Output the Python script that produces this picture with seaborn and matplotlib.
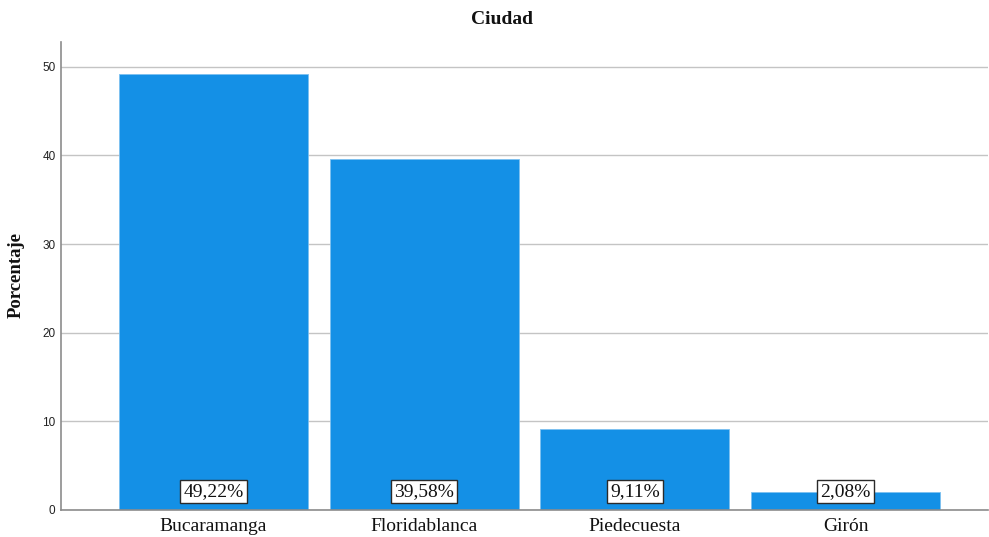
import matplotlib
matplotlib.use("Agg")
import matplotlib.pyplot as plt
import seaborn as sns
import pandas as pd

ciudades = ["Bucaramanga", "Floridablanca", "Piedecuesta", "Girón"]
porcentajes = [49.22, 39.58, 9.11, 2.08]
y_ticks = [0, 10, 20, 30, 40, 50]

df = pd.DataFrame({"Ciudad": ciudades, "Porcentaje": porcentajes})

sns.set_theme(style="white")
plt.rcParams["font.family"] = ["Liberation Serif", "DejaVu Serif"]

fig = plt.figure(figsize=(9.89, 5.37), dpi=100)
ax = fig.add_axes([61 / 989, 27 / 537, 927 / 989, 468 / 537])

ax.set_axisbelow(True)
ax.yaxis.grid(True, color="#c4c4c4", linewidth=1.0)

sns.barplot(data=df, x="Ciudad", y="Porcentaje", color="#1490e6",
            saturation=1, width=0.897, edgecolor="#7cc0f0", linewidth=0.6, ax=ax)

for i, v in enumerate(porcentajes):
    ax.text(i, 2.1, f"{v:.2f}%".replace(".", ","), ha="center", va="center",
            fontsize=14, color="#111111",
            bbox=dict(boxstyle="square,pad=0.16", facecolor="white",
                      edgecolor="#2a2a2a", linewidth=1.0))

ax.set_xlim(-0.724, 3.676)
ax.set_ylim(0, 52.8)
ax.set_yticks(y_ticks)
ax.set_yticklabels([str(t) for t in y_ticks], family="Liberation Sans",
                   fontsize=8.5, color="#222222")
ax.tick_params(axis="y", length=0, pad=4)
ax.tick_params(axis="x", length=0, pad=5.5, labelsize=14, labelcolor="#111111")

ax.set_xlabel("")
ax.set_ylabel("")
fig.text(16 / 989, 1 - 275 / 537, "Porcentaje", rotation=90, ha="center",
         va="center", fontsize=13.5, fontweight="bold", color="#111111")
fig.text(502 / 989, 1 - 20 / 537, "Ciudad", ha="center", va="center",
         fontsize=14, fontweight="bold", color="#111111")

for s in ["top", "right"]:
    ax.spines[s].set_visible(False)
for s in ["left", "bottom"]:
    ax.spines[s].set_color("#8c8c8c")
    ax.spines[s].set_linewidth(1.2)

fig.savefig("out.png", dpi=100)
